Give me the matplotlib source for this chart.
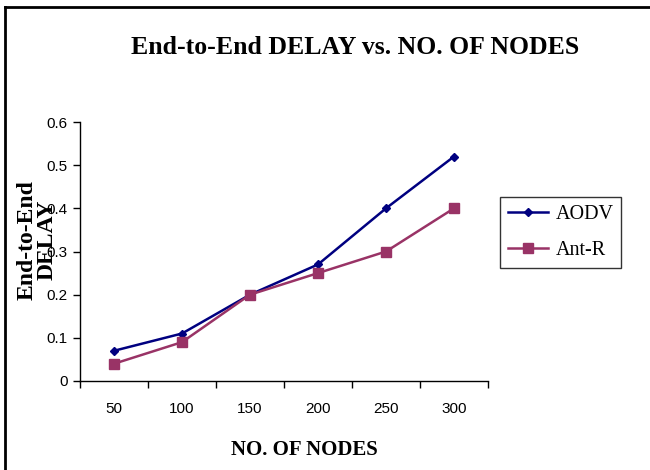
import matplotlib
matplotlib.use("Agg")
import matplotlib.pyplot as plt
from matplotlib.lines import Line2D

nodes = ["50", "100", "150", "200", "250", "300"]
aodv = [0.07, 0.11, 0.20, 0.27, 0.40, 0.52]
antr = [0.04, 0.09, 0.20, 0.25, 0.30, 0.40]
yticks = [0, 0.1, 0.2, 0.3, 0.4, 0.5, 0.6]
ytick_labels = ["0", "0.1", "0.2", "0.3", "0.4", "0.5", "0.6"]

serif = ["Liberation Serif", "DejaVu Serif"]
sans = ["Liberation Sans", "DejaVu Sans"]

fig = plt.figure(figsize=(6.5, 4.7), dpi=100)
ax = fig.add_axes([80/650, 1-381/470, (488-80)/650, (381-122)/470])

x = list(range(1, len(nodes)+1))
ax.plot(x, aodv, color="#000080", lw=1.8, marker="D", ms=4.5, label="AODV")
ax.plot(x, antr, color="#993366", lw=1.8, marker="s", ms=7.5, label="Ant-R")

ax.set_xlim(0.5, len(nodes)+0.5)
ax.set_ylim(0, 0.6)
ax.set_xticks(x)
ax.set_xticklabels(nodes, fontfamily=sans, fontsize=11)
ax.set_xticks([i+0.5 for i in range(0, len(nodes)+1)], minor=True)
ax.tick_params(axis="x", which="major", length=0, pad=15)
ax.tick_params(axis="x", which="minor", length=5, direction="out", width=1)
ax.set_yticks(yticks)
ax.set_yticklabels(ytick_labels, fontfamily=sans, fontsize=11)
ax.tick_params(axis="y", length=5, direction="out", width=1, pad=4)
for s in ["top", "right"]:
    ax.spines[s].set_visible(False)
for s in ["left", "bottom"]:
    ax.spines[s].set_color("black")
    ax.spines[s].set_linewidth(1)

fig.text(355/650, 1-47/470, "End-to-End DELAY vs. NO. OF NODES", ha="center", va="center",
         fontfamily=serif, fontweight="bold", fontsize=18.5)
fig.text(304/650, 1-450/470, "NO. OF NODES", ha="center", va="center",
         fontfamily=serif, fontweight="bold", fontsize=15)
fig.text(27/650, 1-240/470, "End-to-End", ha="center", va="center", rotation=90,
         fontfamily=serif, fontweight="bold", fontsize=17)
fig.text(47/650, 1-240/470, "DELAY", ha="center", va="center", rotation=90,
         fontfamily=serif, fontweight="bold", fontsize=17)

leg = fig.legend(loc="upper left", bbox_to_anchor=(500/650, 1-197/470), borderaxespad=0,
                 prop={"family": serif, "size": 14.5}, frameon=True, fancybox=False,
                 handlelength=2.0, borderpad=0.4, labelspacing=0.85, handletextpad=0.35)
leg.get_frame().set_edgecolor("black")
leg.get_frame().set_linewidth(1)

# outer chart frame (left and top edges)
fig.add_artist(Line2D([5/650, 5/650], [0, 1-7/470], transform=fig.transFigure, color="black", lw=2))
fig.add_artist(Line2D([5/650, 1], [1-7/470, 1-7/470], transform=fig.transFigure, color="black", lw=2))

fig.savefig("out.png", dpi=100, facecolor="white")
